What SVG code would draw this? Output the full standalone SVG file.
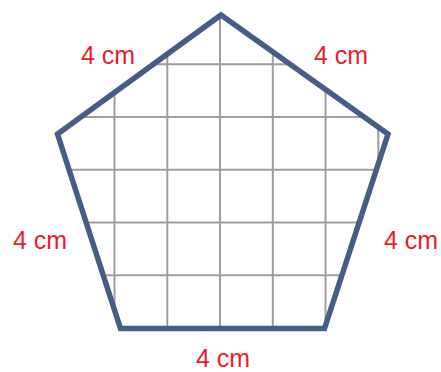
<svg xmlns="http://www.w3.org/2000/svg" width="441" height="372" viewBox="0 0 441 372">
<style>
.grid{stroke:#9e9e9e;stroke-width:2;fill:none}
.edge{fill:none;stroke:#465c8b;stroke-width:5.5;stroke-linejoin:miter;stroke-miterlimit:10}
.lbl{font-family:"Liberation Sans",Arial,sans-serif;font-size:25px;fill:#ea1c2a;text-anchor:middle}
</style>
<defs>
<clipPath id="pc"><polygon points="221,15 388,134 324.5,328.5 120.5,328.5 57.5,134"/></clipPath>
</defs>
<rect width="441" height="372" fill="#fff"/>
<g id="grid" class="grid" clip-path="url(#pc)">
<path d="M114.5,0V372M167.3,0V372M220,0V372M272.8,0V372M325.5,0V372M378.3,0V372"/>
<path d="M0,64.3H441M0,117H441M0,169.8H441M0,222.5H441M0,275.3H441"/>
</g>
<g id="pentagon">
<polygon class="edge" points="221,15 388,134 324.5,328.5 120.5,328.5 57.5,134"/>
</g>
<g id="labels">
<text class="lbl" x="108" y="64">4 cm</text>
<text class="lbl" x="341" y="64">4 cm</text>
<text class="lbl" x="40" y="249">4 cm</text>
<text class="lbl" x="411" y="249">4 cm</text>
<text class="lbl" x="223" y="367">4 cm</text>
</g>
</svg>
